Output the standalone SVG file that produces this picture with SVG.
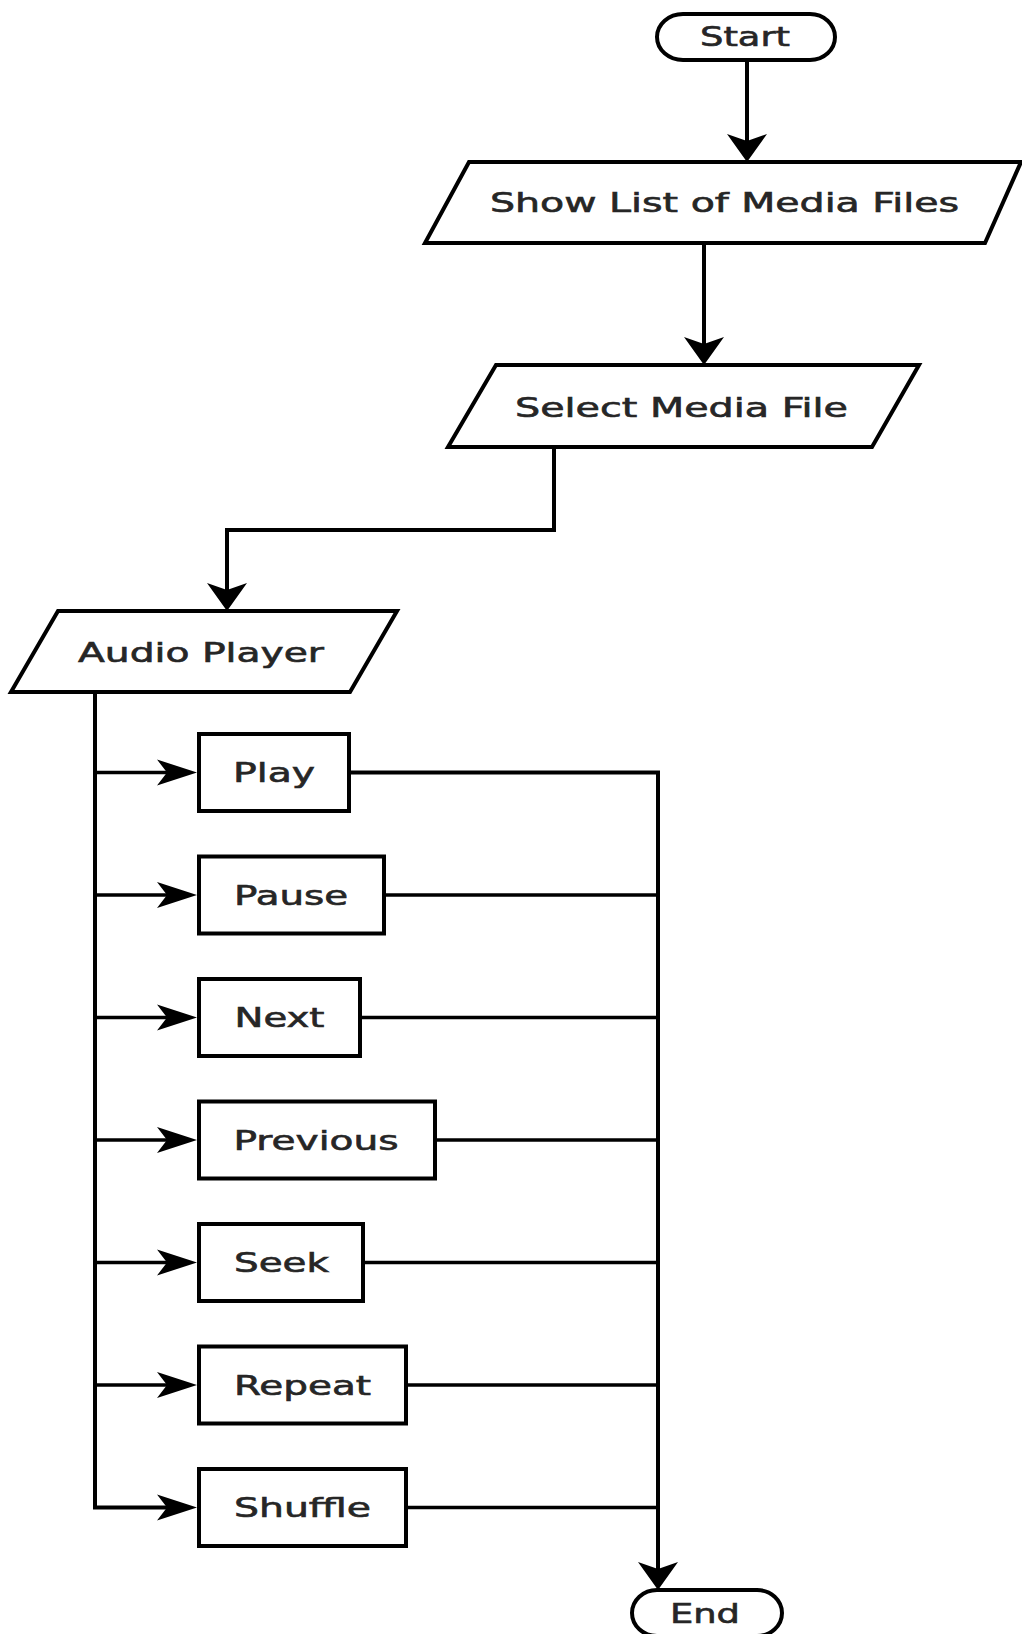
<svg xmlns="http://www.w3.org/2000/svg" width="1022" height="1634" viewBox="0 0 1022 1634">
<style>
.shape{fill:#fff;stroke:#000;stroke-width:4;stroke-linejoin:miter}
.lbl{font-family:"DejaVu Sans","Liberation Sans",sans-serif;font-size:26px;fill:#262626;stroke:#262626;stroke-width:0.6;text-anchor:middle}
.conn{fill:none;stroke:#000;stroke-width:4}
.thin{fill:none;stroke:#000;stroke-width:3.5}
</style>
<defs>
<marker id="av" markerUnits="userSpaceOnUse" orient="auto" refX="-21" refY="0" markerWidth="60" markerHeight="60" overflow="visible">
<path d="M0,0 L-28,-20 L-21,0 L-28,20 Z" fill="#000"/>
</marker>
<marker id="ah" markerUnits="userSpaceOnUse" orient="auto" refX="-29" refY="0" markerWidth="60" markerHeight="60" overflow="visible">
<path d="M0,0 L-40,-13 L-30,0 L-40,13 Z" fill="#000"/>
</marker>
</defs>
<rect width="1022" height="1634" fill="#fff"/>

<g id="connectors">
<path class="conn" d="M747,60 V141" marker-end="url(#av)"/>
<path class="conn" d="M704,243 V344" marker-end="url(#av)"/>
<path class="conn" d="M554,447 V530 H227 V590" marker-end="url(#av)"/>
<path class="conn" d="M95,692 V1507.5 H168" marker-end="url(#ah)"/>
<path class="thin" d="M95,772.5 H168" marker-end="url(#ah)"/>
<path class="thin" d="M95,895 H168" marker-end="url(#ah)"/>
<path class="thin" d="M95,1017.5 H168" marker-end="url(#ah)"/>
<path class="thin" d="M95,1140 H168" marker-end="url(#ah)"/>
<path class="thin" d="M95,1262.5 H168" marker-end="url(#ah)"/>
<path class="thin" d="M95,1385 H168" marker-end="url(#ah)"/>
<path class="conn" d="M349,772.5 H658 V1569" marker-end="url(#av)"/>
<path class="thin" d="M384,895 H658"/>
<path class="thin" d="M360,1017.5 H658"/>
<path class="thin" d="M435,1140 H658"/>
<path class="thin" d="M363,1262.5 H658"/>
<path class="thin" d="M406,1385 H658"/>
<path class="thin" d="M406,1507.5 H658"/>
</g>

<g id="start">
<path class="shape" d="M683,14 H810 A25 23 0 0 1 810 60 H683 A26 23 0 0 1 683 14 Z"/>
<text class="lbl" x="745" y="46" textLength="90" lengthAdjust="spacingAndGlyphs">Start</text>
</g>

<g id="show-list">
<polygon class="shape" points="469,162 1021,162 985,243 425,243"/>
<text class="lbl" x="724.5" y="212" textLength="469" lengthAdjust="spacingAndGlyphs">Show List of Media Files</text>
</g>

<g id="select-media">
<polygon class="shape" points="496,365 919,365 872,447 448,447"/>
<text class="lbl" x="681.5" y="416.5" textLength="333" lengthAdjust="spacingAndGlyphs">Select Media File</text>
</g>

<g id="audio-player">
<polygon class="shape" points="58,611 397,611 350,692 11,692"/>
<text class="lbl" x="201" y="661.5" textLength="246" lengthAdjust="spacingAndGlyphs">Audio Player</text>
</g>

<g id="play">
<rect class="shape" x="199" y="734" width="150" height="77"/>
<text class="lbl" x="274" y="782" textLength="82" lengthAdjust="spacingAndGlyphs">Play</text>
</g>

<g id="pause">
<rect class="shape" x="199" y="856.5" width="185" height="77"/>
<text class="lbl" x="291" y="904.5" textLength="114" lengthAdjust="spacingAndGlyphs">Pause</text>
</g>

<g id="next">
<rect class="shape" x="199" y="979" width="161" height="77"/>
<text class="lbl" x="279.5" y="1027" textLength="90" lengthAdjust="spacingAndGlyphs">Next</text>
</g>

<g id="previous">
<rect class="shape" x="199" y="1101.5" width="236" height="77"/>
<text class="lbl" x="316" y="1149.5" textLength="165" lengthAdjust="spacingAndGlyphs">Previous</text>
</g>

<g id="seek">
<rect class="shape" x="199" y="1224" width="164" height="77"/>
<text class="lbl" x="281.5" y="1272" textLength="95" lengthAdjust="spacingAndGlyphs">Seek</text>
</g>

<g id="repeat">
<rect class="shape" x="199" y="1346.5" width="207" height="77"/>
<text class="lbl" x="302.5" y="1394.5" textLength="137" lengthAdjust="spacingAndGlyphs">Repeat</text>
</g>

<g id="shuffle">
<rect class="shape" x="199" y="1469" width="207" height="77"/>
<text class="lbl" x="302.5" y="1517" textLength="137" lengthAdjust="spacingAndGlyphs">Shuffle</text>
</g>

<g id="end">
<path class="shape" d="M657,1590 H757 A25 23 0 0 1 757 1636 H657 A25 23 0 0 1 657 1590 Z"/>
<text class="lbl" x="705" y="1622.5" textLength="70" lengthAdjust="spacingAndGlyphs">End</text>
</g>
</svg>
